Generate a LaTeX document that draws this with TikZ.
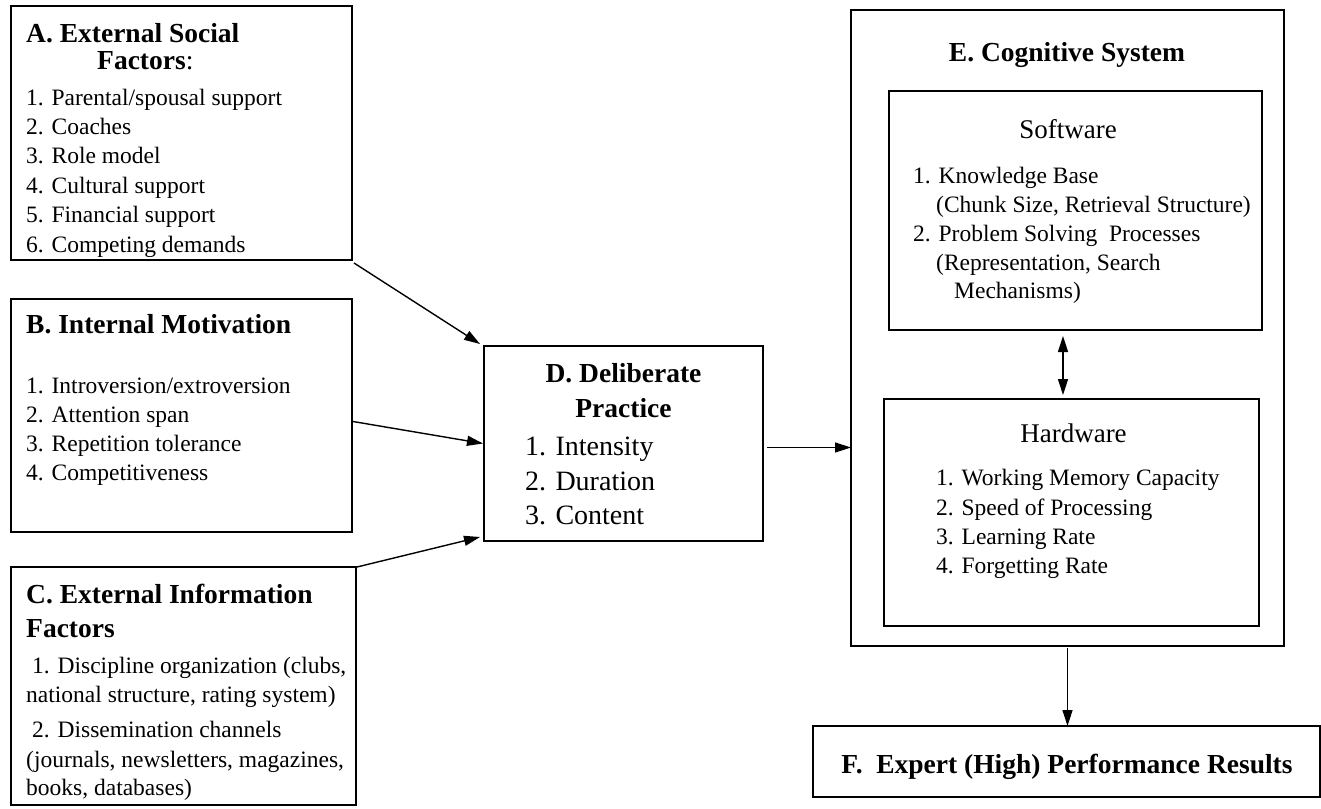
\documentclass[tikz,border=0pt]{standalone}
\usepackage{fontspec}
\setmainfont{Liberation Serif}
\usetikzlibrary{arrows.meta}
\tikzset{
  box/.style={draw=black, line width=1.4pt, inner sep=0pt, outer sep=0pt, anchor=north west},
  body/.style={inner sep=0pt, anchor=base west, font=\fontsize{23.5}{28}\selectfont},
  head/.style={inner sep=0pt, anchor=base, font=\fontsize{27}{32}\selectfont},
  title/.style={inner sep=0pt, anchor=base west, font=\fontsize{27.5}{33}\selectfont\bfseries},
  ctitle/.style={title, anchor=base},
  big/.style={inner sep=0pt, anchor=base west, font=\fontsize{28}{34}\selectfont},
  conn/.style={line width=1.4pt, -{Triangle[length=16pt,width=10pt]}},
  dconn/.style={line width=1.4pt, {Triangle[length=16pt,width=10pt]}-{Triangle[length=16pt,width=10pt]}},
}
\newcommand\putline[5]{\node[#1] (#2) at (#3,#4) {#5};}
\begin{document}
\begin{tikzpicture}[x=1pt,y=-1pt]
\fill[white] (0,0) rectangle (1321,808);
\useasboundingbox (0,0) rectangle (1321,808);

% boxes
\node[box, minimum width=341pt, minimum height=254pt] (A) at (11,6) {};
\node[box, minimum width=341pt, minimum height=233pt] (B) at (11,299) {};
\node[box, minimum width=345pt, minimum height=238pt] (C) at (11,567) {};
\node[box, minimum width=279pt, minimum height=195pt] (D) at (484,346) {};
\node[box, minimum width=433pt, minimum height=636pt] (E) at (851,10) {};
\node[box, minimum width=373pt, minimum height=239pt] (SW) at (889,91) {};
\node[box, minimum width=375pt, minimum height=227pt] (HW) at (884,399) {};
\node[box, minimum width=507pt, minimum height=71pt] (F) at (813,726) {};

% A texts
\putline{title}{a0}{26}{42}{A. External Social}
\putline{title}{a00}{97}{70}{Factors\textmd{:}}
\putline{body}{a1}{26}{105}{1. Parental/spousal support}
\putline{body}{a2}{26}{134}{2. Coaches}
\putline{body}{a3}{26}{163}{3. Role model}
\putline{body}{a4}{26}{193}{4. Cultural support}
\putline{body}{a5}{26}{222}{5. Financial support}
\putline{body}{a6}{26}{252}{6. Competing demands}

% B texts
\putline{title}{b0}{26}{333}{B. Internal Motivation}
\putline{body}{b1}{26}{393}{1. Introversion/extroversion}
\putline{body}{b2}{26}{422}{2. Attention span}
\putline{body}{b3}{26}{451}{3. Repetition tolerance}
\putline{body}{b4}{26}{480}{4. Competitiveness}

% C texts
\putline{title}{c0}{26}{603}{C. External Information}
\putline{title}{c00}{26}{637}{Factors}
\putline{body}{c1}{32}{673}{1. Discipline organization (clubs,}
\putline{body}{c2}{26}{702}{national structure, rating system)}
\putline{body}{c3}{32}{737}{2. Dissemination channels}
\putline{body}{c4}{26}{767}{(journals, newsletters, magazines,}
\putline{body}{c5}{26}{795}{books, databases)}

% D texts
\putline{ctitle}{d0}{623.5}{382}{D. Deliberate}
\putline{ctitle}{d00}{623.5}{417}{Practice}
\putline{big}{d1}{525}{455}{1. Intensity}
\putline{big}{d2}{525}{490}{2. Duration}
\putline{big}{d3}{525}{524}{3. Content}

% E texts
\putline{ctitle}{e0}{1067}{62}{E. Cognitive System}
\putline{head}{s0}{1068}{138}{Software}
\putline{body}{s1}{913}{183}{1. Knowledge Base}
\putline{body}{s2}{936}{212}{(Chunk Size, Retrieval Structure)}
\putline{body}{s3}{913}{241}{2. Problem Solving\ \ Processes}
\putline{body}{s4}{936}{270}{(Representation, Search}
\putline{body}{s5}{954}{298}{Mechanisms)}
\putline{head}{h0}{1073.5}{442}{Hardware}
\putline{body}{h1}{936}{485}{1. Working Memory Capacity}
\putline{body}{h2}{936}{515}{2. Speed of Processing}
\putline{body}{h3}{936}{544}{3. Learning Rate}
\putline{body}{h4}{936}{573}{4. Forgetting Rate}

% F text
\putline{ctitle}{f0}{1067}{773}{F.\ \ Expert (High) Performance Results}

% connectors
\draw[conn] ([shift={(2,3)}]A.south east) -- ([shift={(-4,-2)}]D.north west);
\draw[conn] ([shift={(1,6)}]B.east) -- ([shift={(-1,0)}]D.west);
\draw[conn] ([shift={(1,0)}]C.north east) -- ([shift={(-4,-4)}]D.south west);
\coordinate (d1) at ([shift={(4,4)}]D.east);
\draw[conn] (d1) -- (d1 -| E.west);
\coordinate (sx) at (1063,0);
\coordinate (st) at ([yshift=-6pt]SW.south);
\coordinate (hb) at ([yshift=4pt]HW.north);
\draw[dconn] (st -| sx) -- (hb -| sx);
\coordinate (es) at ([yshift=-2pt]E.south);
\draw[conn] (es) -- (es |- F.north);
\end{tikzpicture}
\end{document}
